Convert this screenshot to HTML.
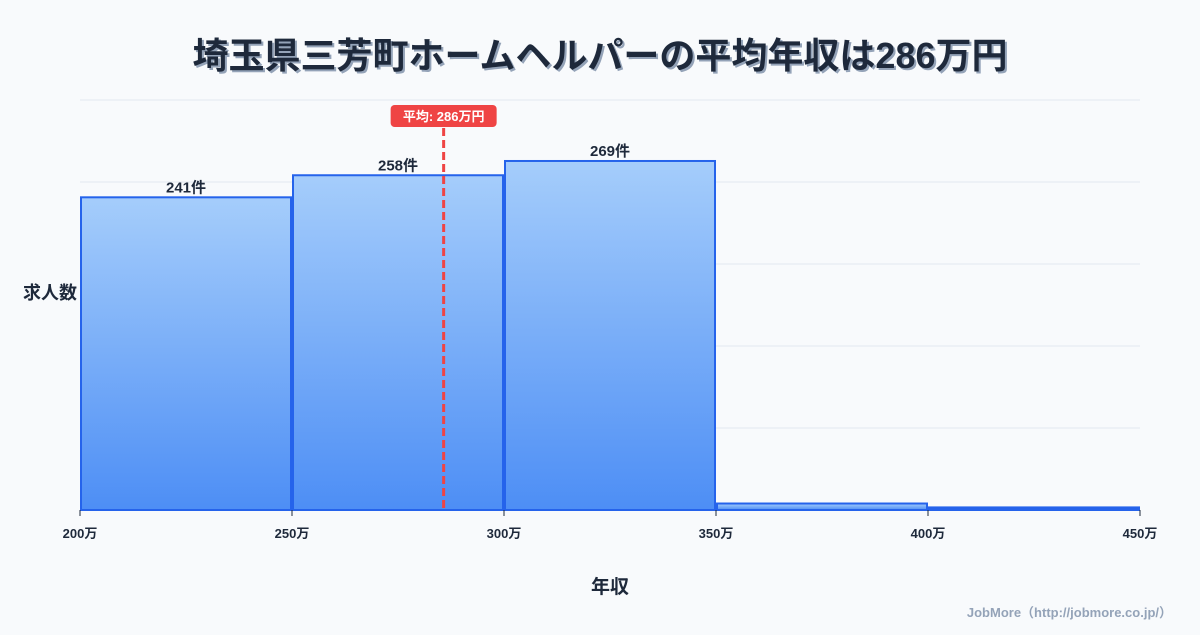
<!DOCTYPE html>
<html><head><meta charset="utf-8"><style>
body{margin:0;background:#f8fafc;font-family:"Liberation Sans","Noto Sans CJK JP",sans-serif;}
svg text{font-family:"Liberation Sans","Noto Sans CJK JP",sans-serif;}
</style></head><body>
<svg id="c" width="1200" height="630" xmlns="http://www.w3.org/2000/svg">
<defs><linearGradient id="g" x1="0" y1="0" x2="0" y2="1"><stop offset="0" stop-color="#a5cdfb"/><stop offset="1" stop-color="#4d8ef5"/></linearGradient></defs>
<text x="600" y="68" text-anchor="middle" font-size="36" font-weight="bold" fill="#94a3b8" transform="translate(2,2)">埼玉県三芳町ホームヘルパーの平均年収は286万円</text>
<text x="600" y="68" text-anchor="middle" font-size="36" font-weight="bold" fill="#1e293b">埼玉県三芳町ホームヘルパーの平均年収は286万円</text>
<g id="grid"></g><g id="bars"></g><g id="xt"></g>
<text x="50" y="299" text-anchor="middle" font-size="18" font-weight="bold" fill="#1e293b">求人数</text>
<text x="610" y="593" text-anchor="middle" font-size="19" font-weight="bold" fill="#1e293b">年収</text>
<text x="1172" y="617" text-anchor="end" font-size="13" font-weight="bold" fill="#94a3b8">JobMore（http://jobmore.co.jp/）</text>
<g id="mean"></g>
</svg>
<script>
const binStarts=[200,250,300,350,400];
const counts=[241,258,269,5,2];
const labels=["241件","258件","269件","",""];
const xTicks=[200,250,300,350,400,450];
const meanValue=286;
const yMax=316;
const ns="http://www.w3.org/2000/svg";
const X0=80,X1=1140,Y0=510,Y1=100;
const x=v=>X0+(v-200)/250*(X1-X0);
const y=v=>Y0-v/yMax*(Y0-Y1);
function mk(t,a,p){const e=document.createElementNS(ns,t);for(const k in a)e.setAttribute(k,a[k]);p.appendChild(e);return e;}
const grid=document.getElementById('grid');
for(let i=0;i<=5;i++){const gy=Y0-i*(Y0-Y1)/5;const l=mk('line',{x1:X0,x2:X1,y1:gy,y2:gy,stroke:'#e2e8f0','stroke-width':1},grid);

}
const bars=document.getElementById('bars');
binStarts.forEach((b,i)=>{const x0=x(b)+1,x1=x(b+50)-1;const top=y(counts[i]);
const small=(Y0-top)<4;
const r=mk('rect',{x:x0,y:top,width:x1-x0,height:Y0-top,fill:small?'#2563eb':'url(#g)',stroke:'#2563eb','stroke-width':2},bars);


if(labels[i]){const t=mk('text',{x:(x0+x1)/2,y:top-5,'text-anchor':'middle','font-size':15,'font-weight':'bold',fill:'#1e293b'},bars);t.textContent=labels[i];

}});
const xt=document.getElementById('xt');
xTicks.forEach(v=>{const l=mk('line',{x1:x(v),x2:x(v),y1:Y0,y2:Y0+6,stroke:'#1e293b','stroke-width':1},xt);


const t=mk('text',{x:x(v),y:Y0+28,'text-anchor':'middle','font-size':13,'font-weight':'bold',fill:'#1e293b'},xt);t.textContent=v+'万';

});
const mg=document.getElementById('mean');const mx=x(meanValue)-1;
const ml=mk('line',{x1:mx,x2:mx,y1:128,y2:Y0,stroke:'#ef4444','stroke-width':3,'stroke-dasharray':'8,4'},mg);


const mr=mk('rect',{x:mx-53,y:105,width:106,height:22,rx:4,fill:'#ef4444'},mg);


const mt=mk('text',{x:mx,y:121,'text-anchor':'middle','font-size':13,'font-weight':'bold',fill:'#fff'},mg);mt.textContent='平均: '+meanValue+'万円';


</script>
</body></html>
